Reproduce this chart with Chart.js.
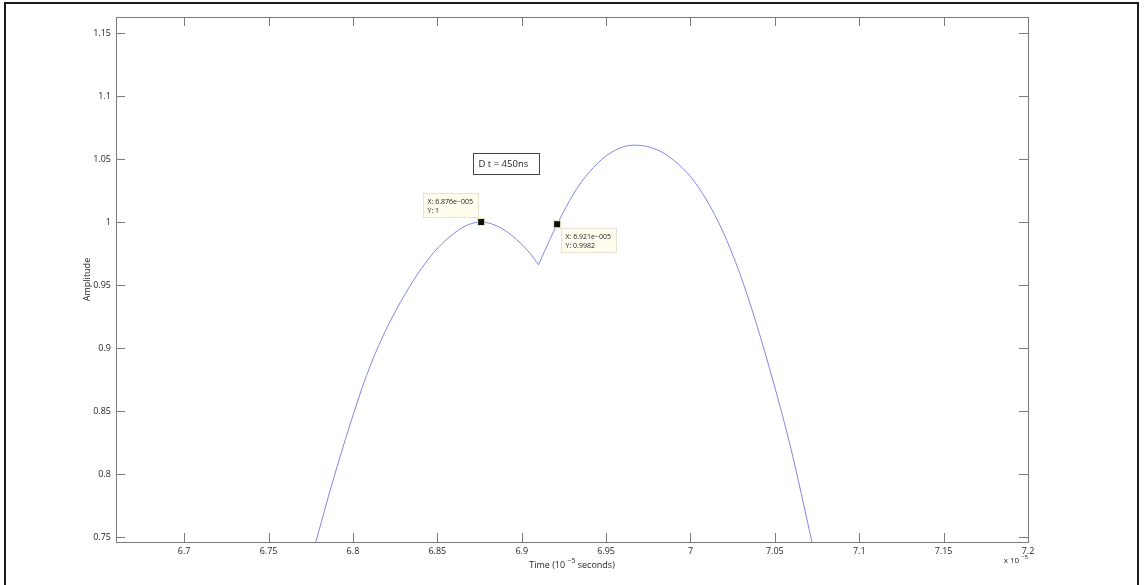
<!DOCTYPE html>
<html>
<head>
<meta charset="utf-8">
<script src="https://cdn.jsdelivr.net/npm/chart.js@4.4.0/dist/chart.umd.min.js"></script>
<style>
html, body { margin: 0; padding: 0; background: #fff; }
#wrap { position: relative; width: 1144px; height: 585px; overflow: hidden; }
#frame { position: absolute; left: 4px; top: 2px; width: 1131px; height: 620px; border: 2px solid #1a1a1a; }
#pulseChart { position: absolute; left: 0; top: 0; }
</style>
</head>
<body>
<div id="wrap">
    <div id="frame"></div>
    <canvas id="pulseChart" width="1144" height="585"></canvas>
</div>
<script>
// time values are in units of 1e-5 s (axis multiplier "x 10^-5")
// first pulse, up to the dip
const timeA = [6.778, 6.788, 6.798, 6.808, 6.818, 6.828, 6.838, 6.848, 6.858, 6.867, 6.876, 6.888, 6.897, 6.905, 6.910];
const ampA  = [0.746, 0.794, 0.838, 0.878, 0.910, 0.936, 0.958, 0.976, 0.989, 0.997, 1.000, 0.995, 0.986, 0.975, 0.966];
// second pulse, from the dip
const timeB = [6.910, 6.917, 6.921, 6.931, 6.940, 6.950, 6.960, 6.967, 6.980, 6.990, 7.000, 7.0095, 7.019, 7.029, 7.039, 7.049, 7.059, 7.072];
const ampB  = [0.966, 0.987, 0.9982, 1.023, 1.0395, 1.0525, 1.0595, 1.061, 1.0575, 1.049, 1.036, 1.0175, 0.993, 0.960, 0.9195, 0.8735, 0.823, 0.746];

// data cursors
const cursorTime = [6.876, 6.921];
const cursorAmp  = [1, 0.9982];
const cursorText = [['X: 6.876e\u2212005', 'Y: 1'], ['X: 6.921e\u2212005', 'Y: 0.9982']];

const xTicks = [6.7, 6.75, 6.8, 6.85, 6.9, 6.95, 7, 7.05, 7.1, 7.15, 7.2];
const yTicks = [0.75, 0.8, 0.85, 0.9, 0.95, 1, 1.05, 1.1, 1.15];
const xRange = [6.6596, 7.2];
const yRange = [0.746, 1.1627];

const noteText = 'D t = 450ns';
const noteAt = [6.871, 1.0548];   // top-left corner of the note box, data units

const FONT = '"Open Sans", "DejaVu Sans", sans-serif';
const AXIS_GREY = '#7b7b7b';
const LINE_BLUE = '#7f88dc';

function toPoints(xs, ys) {
    return xs.map((x, i) => ({ x: x, y: ys[i] }));
}

// draws text with a raised exponent part, starting at x
function drawPower(ctx, parts, x, y, size) {
    let cx = x;
    parts.forEach(p => {
        ctx.font = (p.sup ? size - 2 : size) + 'px ' + FONT;
        ctx.fillText(p.text, cx, p.sup ? y - 4 : y);
        cx += ctx.measureText(p.text).width;
    });
}

function powerWidth(ctx, parts, size) {
    let w = 0;
    parts.forEach(p => {
        ctx.font = (p.sup ? size - 2 : size) + 'px ' + FONT;
        w += ctx.measureText(p.text).width;
    });
    return w;
}

const matlabAxes = {
    id: 'matlabAxes',
    beforeDatasetsDraw(chart) {
        const ctx = chart.ctx;
        const a = chart.chartArea;
        const xs = chart.scales.x, ys = chart.scales.y;
        ctx.save();

        // box + inward ticks
        ctx.strokeStyle = AXIS_GREY;
        ctx.lineWidth = 1;
        ctx.strokeRect(Math.round(a.left) + 0.5, Math.round(a.top) + 0.5,
            Math.round(a.right - a.left), Math.round(a.bottom - a.top));
        ctx.beginPath();
        xTicks.forEach(v => {
            const px = Math.round(xs.getPixelForValue(v)) + 0.5;
            ctx.moveTo(px, a.bottom); ctx.lineTo(px, a.bottom - 9);
            ctx.moveTo(px, a.top); ctx.lineTo(px, a.top + 9);
        });
        yTicks.forEach(v => {
            const py = Math.round(ys.getPixelForValue(v)) + 0.5;
            ctx.moveTo(a.left, py); ctx.lineTo(a.left + 9, py);
            ctx.moveTo(a.right, py); ctx.lineTo(a.right - 9, py);
        });
        ctx.stroke();

        ctx.fillStyle = '#1e1e1e';
        ctx.textBaseline = 'middle';

        // x title
        const xTitle = [{ text: 'Time (10 ' }, { text: '\u22125', sup: true }, { text: ' seconds)' }];
        const tw = powerWidth(ctx, xTitle, 9);
        drawPower(ctx, xTitle, (a.left + a.right) / 2 - tw / 2, 565, 9);

        // multiplier
        const mult = [{ text: 'x 10 ' }, { text: '\u22125', sup: true }];
        const mw = powerWidth(ctx, mult, 8);
        drawPower(ctx, mult, a.right - mw, 561, 8);

        // y title
        ctx.save();
        ctx.translate(87, (a.top + a.bottom) / 2);
        ctx.rotate(-Math.PI / 2);
        ctx.textAlign = 'center';
        ctx.font = '9px ' + FONT;
        ctx.fillText('Amplitude', 0, 0);
        ctx.restore();

        // note box
        const nx = Math.round(xs.getPixelForValue(noteAt[0])) + 0.5;
        const ny = Math.round(ys.getPixelForValue(noteAt[1])) + 0.5;
        ctx.fillStyle = '#fff';
        ctx.fillRect(nx, ny, 66, 21);
        ctx.strokeStyle = '#444';
        ctx.strokeRect(nx, ny, 66, 21);
        ctx.fillStyle = '#1e1e1e';
        ctx.font = '9.5px ' + FONT;
        ctx.textAlign = 'left';
        ctx.fillText(noteText, nx + 5, ny + 10.5);

        // data cursor boxes
        const offsets = [{ dx: -58, dy: -29 }, { dx: 4, dy: 4 }];
        cursorTime.forEach((t, i) => {
            const px = xs.getPixelForValue(t), py = ys.getPixelForValue(cursorAmp[i]);
            const bx = Math.round(px + offsets[i].dx) + 0.5, by = Math.round(py + offsets[i].dy) + 0.5;
            ctx.fillStyle = '#fffcee';
            ctx.fillRect(bx, by, 55, 24);
            ctx.strokeStyle = '#e6e3d6';
            ctx.strokeRect(bx, by, 55, 24);
            ctx.fillStyle = '#222';
            ctx.font = '7px ' + FONT;
            ctx.fillText(cursorText[i][0], bx + 4, by + 8);
            ctx.fillText(cursorText[i][1], bx + 4, by + 17);
        });

        ctx.restore();
    }
};

const chart = new Chart(document.getElementById('pulseChart'), {
    type: 'scatter',
    data: {
        datasets: [
            {
                // cursor markers, drawn on top of the trace
                data: toPoints(cursorTime, cursorAmp),
                order: 0,
                showLine: false,
                pointStyle: 'rect',
                pointRadius: 5,
                backgroundColor: '#111',
                borderColor: '#f3eec0',
                borderWidth: 1
            },
            {
                data: toPoints(timeA, ampA),
                order: 1,
                showLine: true,
                borderColor: LINE_BLUE,
                borderWidth: 1,
                pointRadius: 0,
                cubicInterpolationMode: 'monotone'
            },
            {
                data: toPoints(timeB, ampB),
                order: 2,
                showLine: true,
                borderColor: LINE_BLUE,
                borderWidth: 1,
                pointRadius: 0,
                cubicInterpolationMode: 'monotone'
            }
        ]
    },
    options: {
        responsive: false,
        animation: false,
        devicePixelRatio: 1,
        layout: { padding: { left: 0, top: 17, right: 116, bottom: 0 } },
        plugins: {
            legend: { display: false },
            tooltip: { enabled: false }
        },
        scales: {
            x: {
                type: 'linear',
                min: xRange[0],
                max: xRange[1],
                afterFit: scale => { scale.height = 43; },
                afterBuildTicks: scale => { scale.ticks = xTicks.map(v => ({ value: v })); },
                grid: { display: false, drawTicks: false },
                border: { display: false },
                ticks: {
                    padding: 4,
                    maxRotation: 0,
                    autoSkip: false,
                    color: '#1e1e1e',
                    font: { family: FONT, size: 9 },
                    callback: v => String(v)
                }
            },
            y: {
                type: 'linear',
                min: yRange[0],
                max: yRange[1],
                afterFit: scale => { scale.width = 116; },
                afterBuildTicks: scale => { scale.ticks = yTicks.map(v => ({ value: v })); },
                grid: { display: false, drawTicks: false },
                border: { display: false },
                ticks: {
                    padding: 5,
                    autoSkip: false,
                    color: '#1e1e1e',
                    font: { family: FONT, size: 9 },
                    callback: v => String(v)
                }
            }
        }
    },
    plugins: [matlabAxes]
});
</script>
</body>
</html>
